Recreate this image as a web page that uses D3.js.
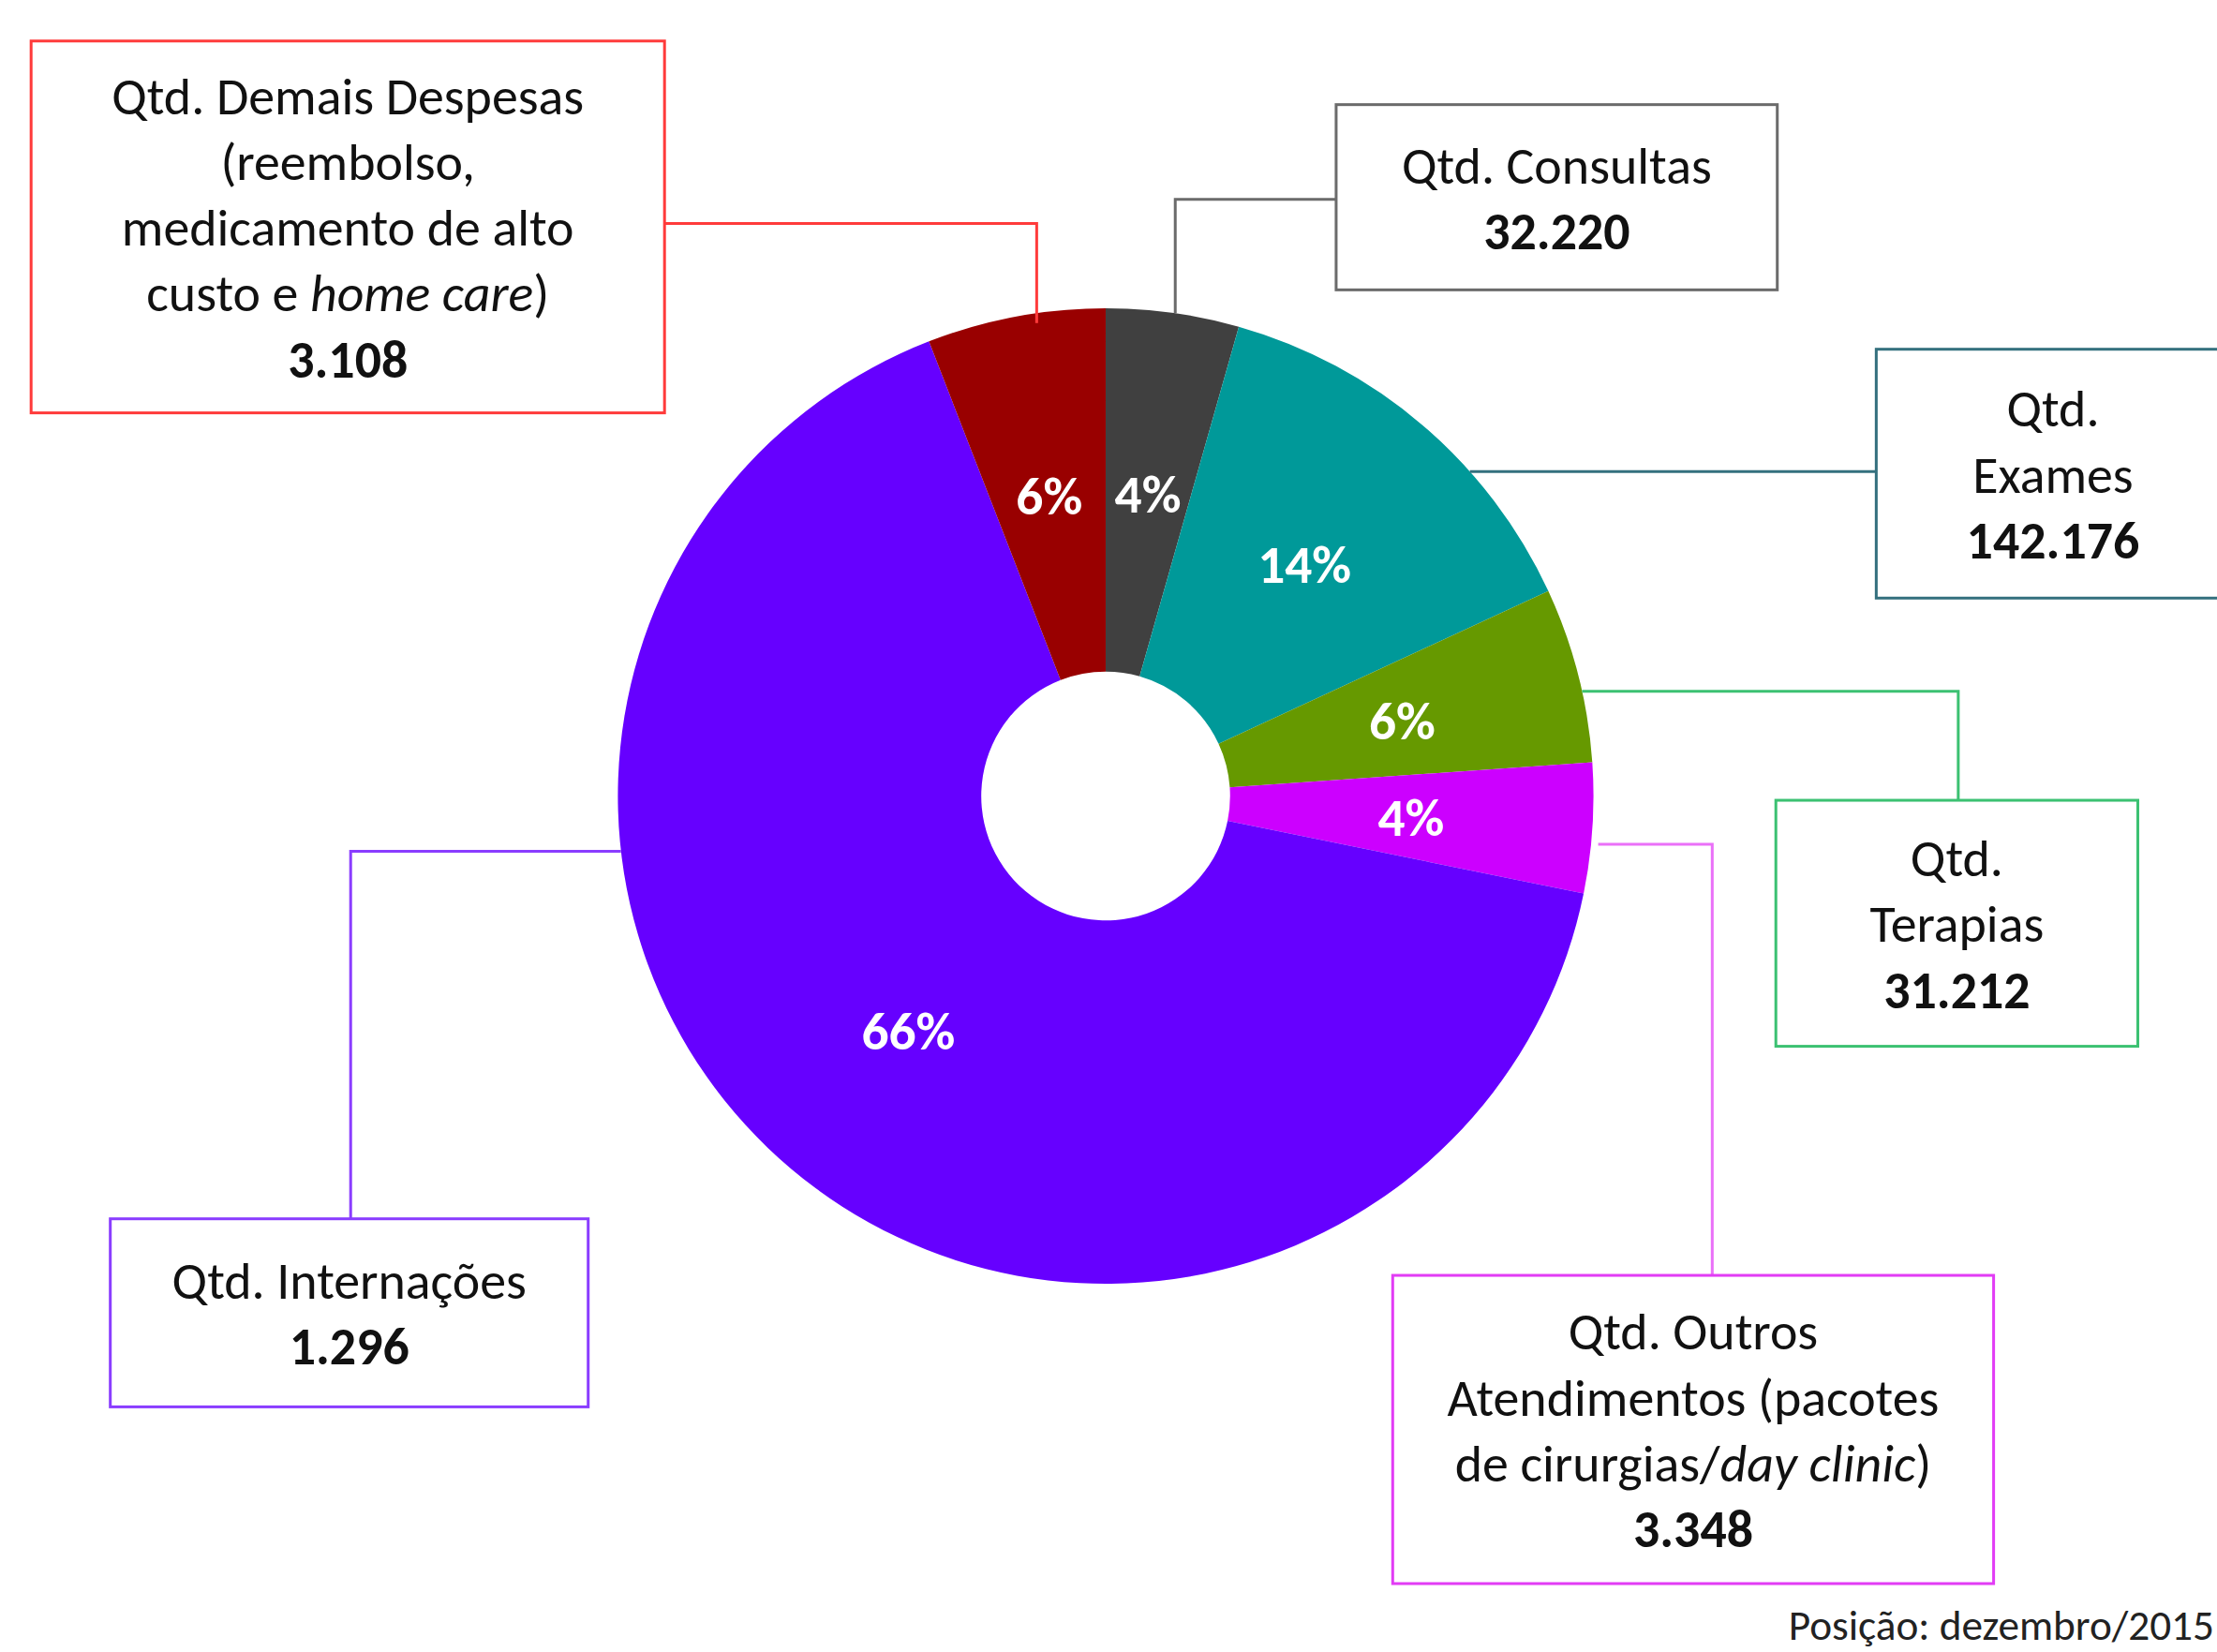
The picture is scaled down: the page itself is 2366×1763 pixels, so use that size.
<!DOCTYPE html>
<html>
<head>
<meta charset="utf-8">
<script src="https://cdn.jsdelivr.net/npm/d3@7"></script>
<style>
  body { margin: 0; background: #fff; }
  text { font-family: Carlito, Calibri, Lato, sans-serif; }
</style>
</head>
<body>
<div id="chart"></div>
<script>
// data (order = clockwise from 12 o'clock)
const categories = ["Consultas", "Exames", "Terapias", "Outros Atendimentos", "Internações", "Demais Despesas"];
const shares = [4.4, 13.7, 5.8, 4.3, 65.9, 5.9];
const quantities = ["32.220", "142.176", "31.212", "3.348", "1.296", "3.108"];
const boxLabels = [
  ["Qtd. Consultas"],
  ["Qtd.", "Exames"],
  ["Qtd.", "Terapias"],
  ["Qtd. Outros", "Atendimentos (pacotes", "de cirurgias/*day clinic*)"],
  ["Qtd. Internações"],
  ["Qtd. Demais Despesas", "(reembolso,", "medicamento de alto", "custo e *home care*)"]
];
const footnote = "Posição: dezembro/2015";

// styles
const sliceColors = ["#404040", "#009999", "#669900", "#cc00ff", "#6600ff", "#990000"];
const boxColors = ["#6b6b6b", "#34707e", "#3cc172", "#e23cf5", "#8a3dff", "#ff3b3b"];
const leaderColors = ["#6b6b6b", "#34707e", "#3cc172", "#ea70f8", "#8a3dff", "#ff3b3b"];

// layout in the 1568-wide design space, scaled up at the end
const W = 2366, H = 1763, k = W / 1568;
const cx = 782, cy = 563, R = 345, r0 = 88;
const lineH = 46.5, fs = 37, pctFs = 38;

// box = [x0, y0, x1, y1]; anchor = angle (deg) on the outer edge; route = elbow
const layout = [
  { box: [945, 74, 1257, 205], anchor: 8.2, route: { vy: 141 } },
  { box: [1327, 247, 1600, 423], anchor: 48.3, route: { h: true } },
  { box: [1256, 566, 1512, 740], anchor: 77.6, route: { hx: 1385 } },
  { box: [985, 902, 1410, 1120], anchor: 95.6, route: { hx: 1211 }, rOff: 5 },
  { box: [78, 862, 416, 995], anchor: 263.5, route: { hx: 248 } },
  { box: [22, 29, 470, 292], anchor: -8.3, route: { vy: 158 }, rOff: -7 }
];

const svg = d3.select("#chart").append("svg")
    .attr("width", W)
    .attr("height", H);
svg.append("rect").attr("width", W).attr("height", H).attr("fill", "#fff");

const g = svg.append("g").attr("transform", "scale(" + k + ")");

const pie = d3.pie().sort(null).value(d => d);
const arcs = pie(shares);
const arc = d3.arc().innerRadius(r0).outerRadius(R);
const total = d3.sum(shares);
const pct = d3.format(".0%");

const pieG = g.append("g").attr("transform", "translate(" + cx + "," + cy + ")");

pieG.selectAll("path.slice")
  .data(arcs)
  .enter().append("path")
    .attr("class", "slice")
    .attr("d", arc)
    .attr("fill", (d, i) => sliceColors[i]);

pieG.selectAll("text.pct")
  .data(arcs)
  .enter().append("text")
    .attr("class", "pct")
    .attr("transform", d => "translate(" + arc.centroid(d) + ")")
    .attr("text-anchor", "middle")
    .attr("dy", "0.36em")
    .attr("fill", "#fff")
    .attr("font-weight", "bold")
    .attr("font-size", pctFs)
    .text(d => pct(d.value / total));

// leader lines
layout.forEach((l, i) => {
  let a = l.anchor * Math.PI / 180, rr = R + (l.rOff || 0);
  let sx = cx + rr * Math.sin(a), sy = cy - rr * Math.cos(a);
  let b = l.box, pts = [[sx, sy]];
  if (l.route.vy !== undefined) {
    let ex = sx < b[0] ? b[0] : b[2];
    pts.push([sx, l.route.vy], [ex, l.route.vy]);
  } else if (l.route.h) {
    pts.push([b[0], sy]);
  } else {
    pts.push([l.route.hx, sy], [l.route.hx, b[1]]);
  }
  g.append("path")
    .attr("d", d3.line()(pts))
    .attr("fill", "none")
    .attr("stroke", leaderColors[i])
    .attr("stroke-width", 2);
});

// callout boxes
layout.forEach((l, i) => {
  let b = l.box;
  g.append("rect")
    .attr("x", b[0]).attr("y", b[1])
    .attr("width", b[2] - b[0]).attr("height", b[3] - b[1])
    .attr("fill", "#fff")
    .attr("stroke", boxColors[i])
    .attr("stroke-width", 2);

  let lines = boxLabels[i].concat([null]);
  let midX = (b[0] + Math.min(b[2], 1577)) / 2;
  let top = (b[1] + b[3]) / 2 - (lines.length - 1) * lineH / 2;
  lines.forEach((ln, j) => {
    let t = g.append("text")
      .attr("x", midX)
      .attr("y", top + j * lineH)
      .attr("dy", "0.36em")
      .attr("text-anchor", "middle")
      .attr("font-size", fs)
      .attr("fill", "#111");
    if (ln === null) {
      t.attr("font-weight", "bold").text(quantities[i]);
    } else {
      ln.split("*").forEach((part, p) => {
        if (!part) return;
        t.append("tspan").attr("font-style", p % 2 ? "italic" : "normal").text(part);
      });
    }
  });
});

g.append("text")
  .attr("x", 1566)
  .attr("y", 1160)
  .attr("text-anchor", "end")
  .attr("font-size", 30)
  .attr("fill", "#222")
  .text(footnote);
</script>
</body>
</html>
